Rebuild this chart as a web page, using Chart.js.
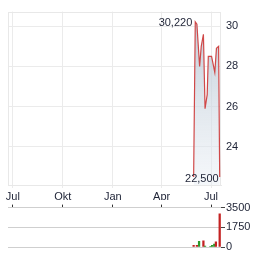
<!DOCTYPE html>
<html>
<head>
<meta charset="utf-8">
<script src="https://cdn.jsdelivr.net/npm/chart.js@4.4.1/dist/chart.umd.min.js"></script>
<style>
  body { margin: 0; background: #fff; }
  #wrap { position: relative; width: 264px; height: 255px; }
  canvas { position: absolute; left: 0; }
</style>
</head>
<body>
<div id="wrap">
  <canvas id="price_chart" width="264" height="200" style="top:0"></canvas>
  <canvas id="vol_chart" width="264" height="55" style="top:200px"></canvas>
</div>
<script>
// price data
const priceDates = ['2025-05-30', '2025-06-02', '2025-06-05', '2025-06-10', '2025-06-13', '2025-06-17', '2025-06-20',
                    '2025-06-24', '2025-06-26', '2025-07-02', '2025-07-08', '2025-07-11', '2025-07-15', '2025-07-17'];
const prices = [22.5, 30.22, 30.1, 28.0, 29.0, 29.6, 25.9, 26.6, 28.5, 28.5, 27.7, 28.9, 29.0, 22.5];

// volume data
const volDates = ['2025-05-30', '2025-06-05', '2025-06-09', '2025-06-17', '2025-06-20', '2025-06-30',
                  '2025-07-03', '2025-07-07', '2025-07-10', '2025-07-17'];
const volumes = [150, 150, 500, 550, 80, 60, 150, 250, 450, 2950];
const volDir = ['down', 'down', 'up', 'down', 'up', 'up', 'up', 'up', 'down', 'down'];

// axes
const xTickDates = ['2024-07-01', '2024-10-01', '2025-01-01', '2025-04-01', '2025-07-01'];
const xTickLabels = ['Jul', 'Okt', 'Jan', 'Apr', 'Jul'];
const yTicks = [24, 26, 28, 30];
const volTicks = [0, 1750, 3500];

function dayNum(s) {
    const p = s.split('-');
    return Date.UTC(+p[0], +p[1] - 1, +p[2]) / 86400000;
}

const xMin = dayNum('2024-06-22');
const xMax = dayNum('2025-07-19') + 0.4;
const FONT = { family: 'Liberation Sans, Arial, sans-serif', size: 11 };
const TXT = '#1d2235';

const frame = {
    id: 'frame',
    beforeDatasetsDraw(chart) {
        const a = chart.chartArea, c = chart.ctx;
        c.save();
        c.strokeStyle = '#e8e8e8';
        c.lineWidth = 1;
        c.strokeRect(Math.round(a.left) + 0.5, Math.round(a.top) + 0.5,
                     Math.round(a.right - a.left) - 1, Math.round(a.bottom - a.top));
        c.restore();
    }
};

const hiLo = {
    id: 'hiLo',
    afterDatasetsDraw(chart) {
        const c = chart.ctx, sx = chart.scales.x, sy = chart.scales.y;
        const hi = prices.indexOf(Math.max(...prices));
        const lo = prices.lastIndexOf(Math.min(...prices));
        const fmt = v => v.toFixed(3).replace('.', ',');
        c.save();
        c.font = '11px Liberation Sans, Arial, sans-serif';
        c.fillStyle = TXT;
        c.textAlign = 'right';
        c.textBaseline = 'middle';
        c.fillText(fmt(prices[hi]), sx.getPixelForValue(dayNum(priceDates[hi])) - 3, sy.getPixelForValue(prices[hi]) + 1);
        c.fillText(fmt(prices[lo]), sx.getPixelForValue(dayNum(priceDates[lo])) - 1, sy.getPixelForValue(prices[lo]) + 2);
        c.restore();
    }
};

const ctx1 = document.getElementById('price_chart');
const priceChart = new Chart(ctx1, {
    type: 'line',
    data: {
        datasets: [{
            data: priceDates.map((d, i) => ({ x: dayNum(d), y: prices[i] })),
            borderColor: '#d04848',
            borderWidth: 1.2,
            pointRadius: 0,
            tension: 0,
            fill: 'start',
            backgroundColor: (ctx) => {
                const a = ctx.chart.chartArea;
                if (!a) return 'rgba(190,202,214,0.7)';
                const g = ctx.chart.ctx.createLinearGradient(0, a.top, 0, a.bottom);
                g.addColorStop(0, 'rgba(178,192,206,0.85)');
                g.addColorStop(1, 'rgba(232,238,244,0.45)');
                return g;
            }
        }]
    },
    options: {
        responsive: false,
        animation: false,
        devicePixelRatio: 1,
        layout: { padding: { left: 8, top: 7, right: 0, bottom: 0 } },
        plugins: { legend: { display: false }, tooltip: { enabled: false } },
        scales: {
            x: {
                type: 'linear',
                min: xMin,
                max: xMax,
                afterBuildTicks: s => { s.ticks = xTickDates.map(d => ({ value: dayNum(d) })); },
                afterFit: s => { s.height = 15; },
                grid: { color: '#ebebeb', tickLength: 3 },
                border: { color: '#e8e8e8' },
                ticks: {
                    autoSkip: false, maxRotation: 0, padding: 2,
                    color: TXT, font: FONT,
                    callback: (v, i) => xTickLabels[i]
                }
            },
            y: {
                position: 'right',
                min: 22.1,
                max: 30.73,
                afterBuildTicks: s => { s.ticks = yTicks.map(v => ({ value: v })); },
                afterFit: s => { s.width = 43; },
                grid: { color: '#ebebeb', drawTicks: false },
                border: { display: false },
                ticks: { padding: 5, color: TXT, font: FONT, callback: v => String(v) }
            }
        }
    },
    plugins: [frame, hiLo]
});

const ctx2 = document.getElementById('vol_chart');
const volChart = new Chart(ctx2, {
    type: 'bar',
    data: {
        datasets: [{
            data: volDates.map((d, i) => ({ x: dayNum(d), y: volumes[i] })),
            backgroundColor: volDir.map(d => d === 'up' ? '#2b9a2b' : '#c42222'),
            barThickness: 1.6
        }]
    },
    options: {
        responsive: false,
        animation: false,
        devicePixelRatio: 1,
        layout: { padding: { left: 8, top: 0, right: 0, bottom: 8 } },
        plugins: { legend: { display: false }, tooltip: { enabled: false } },
        scales: {
            x: {
                type: 'linear',
                position: 'top',
                min: xMin,
                max: xMax,
                offset: false,
                afterBuildTicks: s => { s.ticks = xTickDates.map(d => ({ value: dayNum(d) })); },
                afterFit: s => { s.height = 7; },
                grid: { drawOnChartArea: false, tickLength: 3, color: '#333', offset: false },
                border: { display: false },
                ticks: { display: false }
            },
            y: {
                position: 'right',
                min: 0,
                max: 3500,
                afterBuildTicks: s => { s.ticks = volTicks.map(v => ({ value: v })); },
                afterFit: s => { s.width = 43; },
                grid: { color: '#cfcfcf', tickLength: 4, tickColor: '#444' },
                border: { display: false },
                ticks: { padding: 1, color: TXT, font: FONT, callback: v => String(v) }
            }
        }
    }
});
</script>
</body>
</html>
